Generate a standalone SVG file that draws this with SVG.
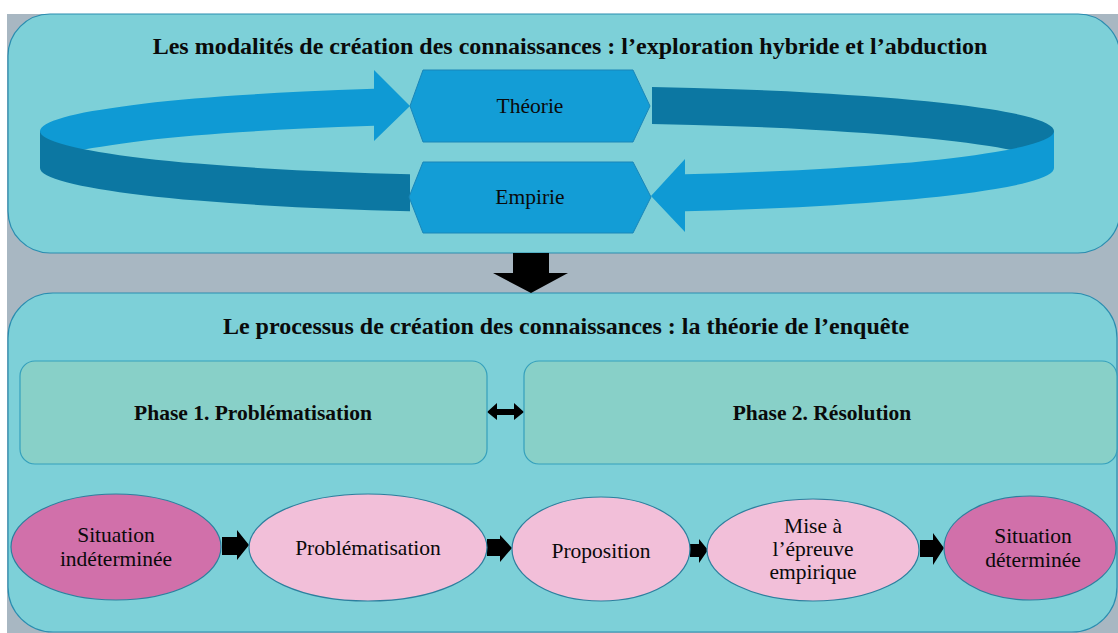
<svg xmlns="http://www.w3.org/2000/svg" width="1118" height="633" viewBox="0 0 1118 633">
<style>
text{font-family:"Liberation Serif","Times New Roman",serif;fill:#0a0a0a;text-anchor:middle}
.title{font-size:24px;font-weight:bold}
.phase{font-size:21.5px;font-weight:bold}
.lbl{font-size:21.5px}
.panel{fill:#7dd0d8;stroke:#2a8db0;stroke-width:1.2}
.phasebox{fill:#88d0c8;stroke:#35a0bc;stroke-width:1.2}
.hex{fill:#139dd6;stroke:#1a86b8;stroke-width:1}
.light{fill:#0f9ad4}
.dark{fill:#0c77a2}
.e-dark{fill:#d170aa;stroke:#2d7f9e;stroke-width:1.2}
.e-light{fill:#f2bfd9;stroke:#2d7f9e;stroke-width:1.2}
.blk{fill:#000}
</style>
<rect x="0" y="0" width="1118" height="633" fill="#ffffff"/>
<rect x="7" y="14" width="1111" height="619" fill="#a8b7c2"/>
<g id="panel-top"><rect class="panel" x="8" y="14" width="1112" height="239" rx="42" ry="42"/>
<text class="title" x="570" y="54">Les modalités de création des connaissances : l’exploration hybride et l’abduction</text></g>
<g id="panel-bottom"><rect class="panel" x="8" y="293" width="1109" height="339" rx="45" ry="45"/>
<text class="title" x="566" y="334">Le processus de création des connaissances : la théorie de l’enquête</text></g>
<g id="connectors">
<path class="dark" d="M652,87 A507,45 0 0 1 1054,131 L1054,168 A507,45 0 0 0 652,124 Z"/>
<path class="light" d="M374,88.7 A507,45 0 0 0 40,131 L40,168 A507,45 0 0 1 374,125.7 L374,141 L410,106 L374,70 Z"/>
<path class="dark" d="M40,131 A507,45 0 0 0 410,174.3 L410,211.3 A507,45 0 0 1 40,168 Z"/>
<path class="light" d="M1054,131 A507,45 0 0 1 685,174.3 L685,159 L651,196 L685,232 L685,211.3 A507,45 0 0 0 1054,168 Z"/>
<polygon class="blk" points="513,253 549,253 549,273 568,273 531,293 493,273 513,273"/>
<polygon class="blk" points="487,412 497,403 497,409 514,409 514,403 524,412 514,420 514,415 497,415 497,420"/>
<polygon class="blk" points="222,537 237,537 237,530 249,545 237,560 237,555 222,555"/>
<polygon class="blk" points="487,539 500,539 500,535 512,548 500,562 500,556 487,556"/>
<polygon class="blk" points="690,544 699,544 699,539 708,550 699,563 699,557 690,557"/>
<polygon class="blk" points="920,540 933,540 933,533 944,548 933,565 933,557 920,557"/>
</g>
<g id="theorie"><polygon class="hex" points="410,106 423,70 633,70 650,106 633,142 423,142"/>
<text class="lbl" x="530" y="113">Théorie</text></g>
<g id="empirie"><polygon class="hex" points="409,197 423,162 633,162 651,197 633,233 423,233"/>
<text class="lbl" x="530" y="204">Empirie</text></g>
<g id="phase1"><rect class="phasebox" x="20" y="361" width="467" height="103" rx="15" ry="15"/>
<text class="phase" x="253" y="420">Phase 1. Problématisation</text></g>
<g id="phase2"><rect class="phasebox" x="524" y="361" width="593" height="103" rx="15" ry="15"/>
<text class="phase" x="822" y="420">Phase 2. Résolution</text></g>
<g id="situation-indeterminee"><ellipse class="e-dark" cx="116" cy="547" rx="105" ry="53"/>
<text class="lbl" x="116" y="542">Situation</text><text class="lbl" x="116" y="566">indéterminée</text></g>
<g id="problematisation"><ellipse class="e-light" cx="368" cy="547.5" rx="119" ry="53.5"/>
<text class="lbl" x="368" y="555">Problématisation</text></g>
<g id="proposition"><ellipse class="e-light" cx="601" cy="549" rx="89" ry="52"/>
<text class="lbl" x="601" y="558">Proposition</text></g>
<g id="mise-epreuve"><ellipse class="e-light" cx="813" cy="550" rx="106" ry="51"/>
<text class="lbl" x="813" y="533">Mise à</text><text class="lbl" x="813" y="556">l’épreuve</text><text class="lbl" x="813" y="579">empirique</text></g>
<g id="situation-determinee"><ellipse class="e-dark" cx="1030" cy="548" rx="86" ry="52"/>
<text class="lbl" x="1033" y="543">Situation</text><text class="lbl" x="1033" y="567">déterminée</text></g>
</svg>
